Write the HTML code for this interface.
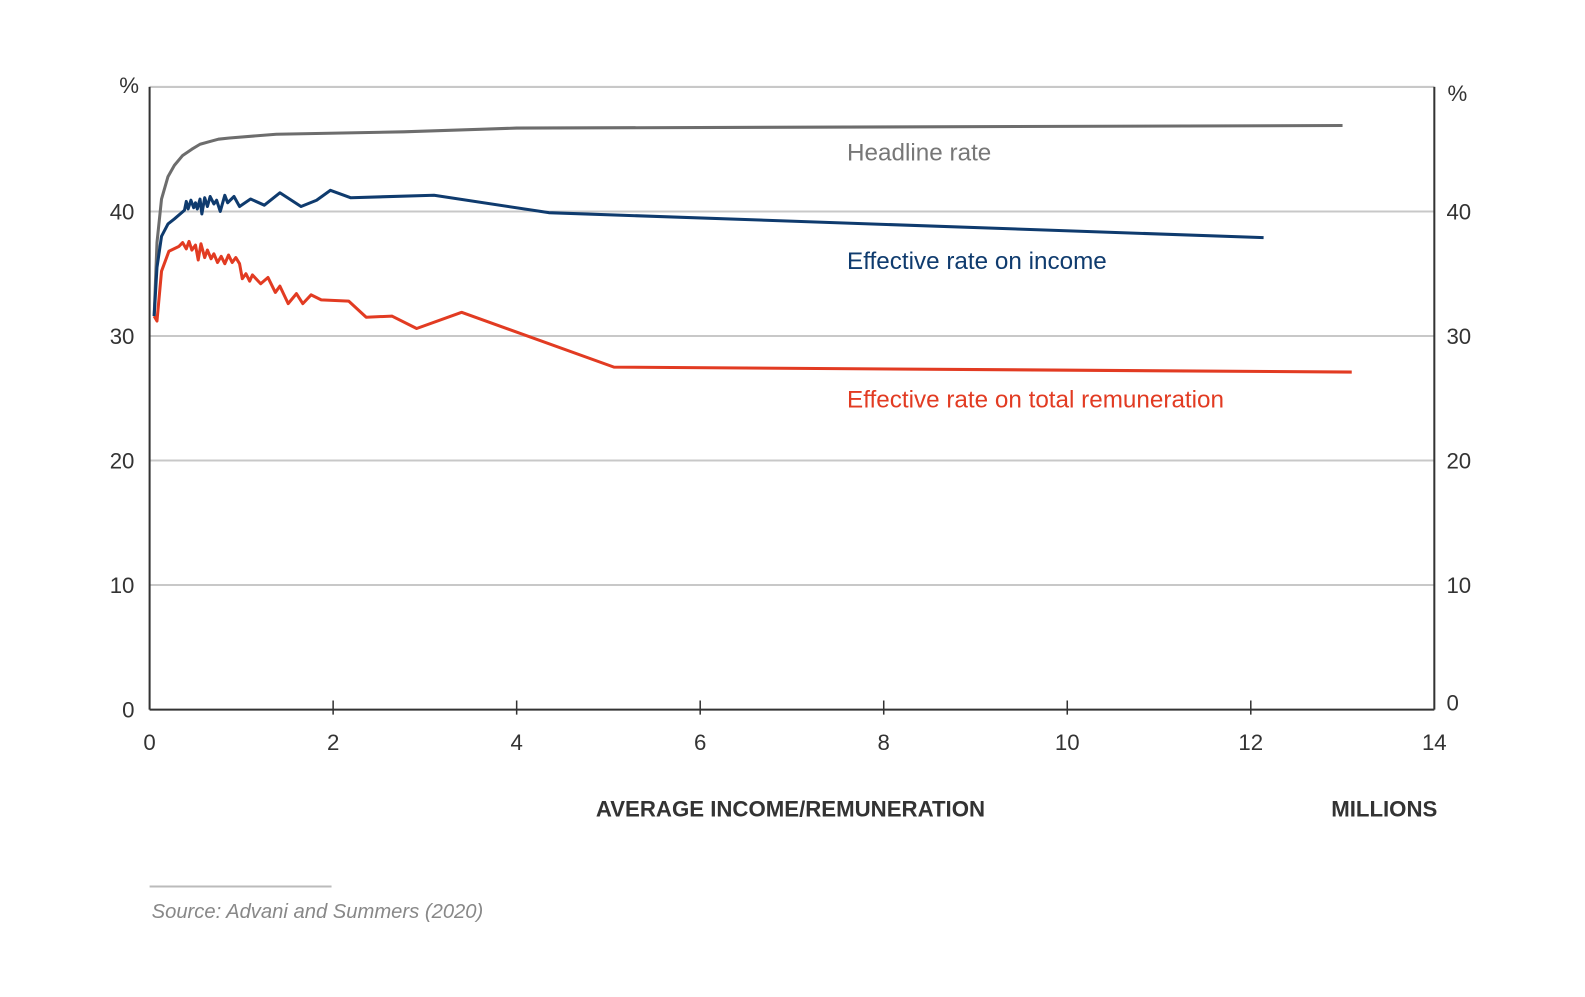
<!DOCTYPE html>
<html><head><meta charset="utf-8"><style>
body{margin:0;background:#fff;}
svg text{font-family:"Liberation Sans",sans-serif;}
</style></head><body>
<svg id="chart" width="1585" height="992" viewBox="0 0 1585 992" xmlns="http://www.w3.org/2000/svg">
<g transform="scale(1.0108)">
<g id="grid"></g><g id="axes"></g><g id="series"></g><g id="labels"></g>
</g>
</svg>
<script>
const xTicks=[0,2,4,6,8,10,12,14];
const yTicks=[0,10,20,30,40];
const headlineX=[0.05,0.08,0.13,0.2,0.27,0.36,0.46,0.55,0.65,0.75,0.87,1.38,2.77,4,13];
const headlineY=[31.6,37.5,41,42.8,43.7,44.5,45,45.4,45.6,45.8,45.9,46.2,46.4,46.7,46.9];
const incomeX=[0.05,0.08,0.13,0.2,0.27,0.38,0.4,0.42,0.45,0.48,0.5,0.52,0.55,0.57,0.6,0.63,0.66,0.7,0.73,0.77,0.82,0.85,0.92,0.98,1.1,1.25,1.42,1.65,1.82,1.97,2.19,3.1,4.35,12.14];
const incomeY=[31.6,35.5,38.0,39.0,39.4,40.1,40.8,40.2,40.9,40.3,40.7,40.2,41.0,39.8,41.1,40.4,41.2,40.6,40.9,40.0,41.3,40.7,41.2,40.4,41.0,40.5,41.5,40.4,40.9,41.7,41.1,41.3,39.9,37.9];
const remX=[0.05,0.08,0.13,0.21,0.32,0.36,0.4,0.43,0.46,0.5,0.53,0.56,0.6,0.63,0.67,0.7,0.74,0.78,0.82,0.86,0.9,0.94,0.98,1.01,1.05,1.09,1.12,1.21,1.29,1.37,1.42,1.51,1.6,1.67,1.76,1.87,2.17,2.36,2.64,2.91,3.4,5.06,13.1];
const remY=[31.6,31.2,35.2,36.8,37.2,37.5,37.0,37.6,36.9,37.3,36.1,37.4,36.3,36.9,36.2,36.6,35.9,36.4,35.8,36.5,35.9,36.3,35.8,34.6,35.0,34.4,34.9,34.2,34.7,33.5,34.0,32.6,33.4,32.6,33.3,32.9,32.8,31.5,31.6,30.6,31.9,27.5,27.1];

const NS="http://www.w3.org/2000/svg";
const X0=148,X1=1419,Y0=702,YT=86;
const xs=v=>X0+(X1-X0)*v/14;
const ys=v=>Y0-(Y0-YT)*v/50;
function mk(tag,attrs,parent,text){const e=document.createElementNS(NS,tag);for(const k in attrs)e.setAttribute(k,attrs[k]);if(text!==undefined)e.textContent=text;parent.appendChild(e);return e;}
const grid=document.getElementById('grid'),axes=document.getElementById('axes'),ser=document.getElementById('series'),lab=document.getElementById('labels');

yTicks.forEach(v=>{
 if(v>0){const g=mk('line',{x1:X0,x2:X1,y1:ys(v),y2:ys(v),stroke:'#c8c8c8','stroke-width':2},grid);
 
 }
 const l=mk('text',{x:133,y:ys(v)+8,'text-anchor':'end','font-size':22,fill:'#333'},lab,String(v));
 
 
 const r=mk('text',{x:1431,y:(v===0?703:ys(v)+8),'font-size':22,fill:'#333'},lab,String(v));
 
 
});
const topBorder=mk('line',{x1:X0,x2:X1,y1:YT,y2:YT,stroke:'#c8c8c8','stroke-width':2},grid);


const la=mk('line',{x1:X0,x2:X0,y1:YT,y2:Y0,stroke:'#333','stroke-width':2},axes);


const ra=mk('line',{x1:X1,x2:X1,y1:YT,y2:Y0,stroke:'#333','stroke-width':2},axes);


const xa=mk('line',{x1:X0,x2:X1,y1:Y0,y2:Y0,stroke:'#333','stroke-width':2},axes);


xTicks.forEach(v=>{
 if(v>0&&v<14){const t=mk('line',{x1:xs(v),x2:xs(v),y1:Y0-9,y2:Y0+5,stroke:'#333','stroke-width':1.5},axes);
 
 }
 const l=mk('text',{x:xs(v),y:742,'text-anchor':'middle','font-size':22,fill:'#333'},lab,String(v));
 
 
});
function drawLine(xa,ya,color,name){
 const d=xa.map((x,i)=>(i?'L':'M')+xs(x).toFixed(1)+','+ys(ya[i]).toFixed(1)).join('');
 const p=mk('path',{d:d,fill:'none',stroke:color,'stroke-width':3,'stroke-linejoin':'round'},ser);
 
 
}
drawLine(headlineX,headlineY,'#6d6d6d','headline-rate-line');
drawLine(remX,remY,'#e23b22','remuneration-rate-line');
drawLine(incomeX,incomeY,'#0f3b6e','income-rate-line');

const T=[
 [118,92,'%','left-y-unit',22,'#333','start','normal',''],
 [1432,100,'%','right-y-unit',22,'#333','start','normal',''],
 [838,159,'Headline rate','headline-label',24,'#777','start','normal',''],
 [838,266,'Effective rate on income','income-label',24,'#0f3b6e','start','normal',''],
 [838,403,'Effective rate on total remuneration','remuneration-label',24,'#e23b22','start','normal',''],
 [782,808,'AVERAGE INCOME/REMUNERATION','x-axis-title',22,'#333','middle','bold',''],
 [1422,808,'MILLIONS','x-axis-unit',22,'#333','end','bold',''],
 [150,908,'Source: Advani and Summers (2020)','source-note',20,'#888','start','normal','italic']
];
T.forEach(t=>{
 const e=mk('text',{x:t[0],y:t[1],'font-size':t[4],fill:t[5],'text-anchor':t[6],'font-weight':t[7]},lab,t[2]);
 if(t[8])e.setAttribute('font-style',t[8]);
 
 
});
const sl=mk('line',{x1:148,x2:328,y1:877,y2:877,stroke:'#bbb','stroke-width':2},lab);


</script>
</body></html>
